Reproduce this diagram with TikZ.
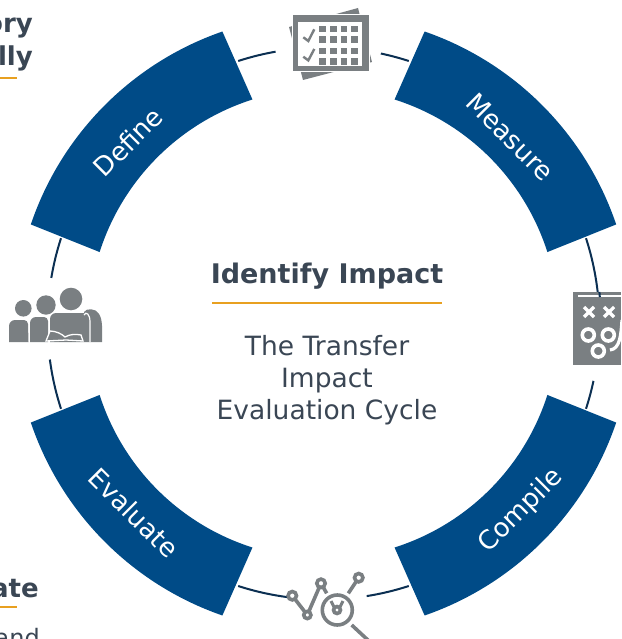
\documentclass[tikz,border=0pt]{standalone}
\usepackage{fontspec}
\setmainfont{DejaVu Sans}
\definecolor{segblue}{HTML}{004B87}
\definecolor{ringblue}{HTML}{0B2F52}
\definecolor{icongrey}{HTML}{7A7F82}
\definecolor{textgrey}{HTML}{3A4654}
\definecolor{lineorange}{HTML}{E8A020}
\tikzset{
  seglabel/.style={text=white,font=\fontsize{26}{30}\selectfont},
  headtext/.style={text=textgrey,font=\fontsize{27}{32}\bfseries\selectfont},
  sidehead/.style={text=textgrey,font=\fontsize{26}{30}\bfseries\selectfont,anchor=base east,inner sep=0},
  bodytext/.style={text=textgrey,font=\fontsize{26.5}{32}\selectfont},
  ringline/.style={ringblue,line width=2},
  iconline/.style={icongrey,line width=3.6},
  orangeline/.style={lineorange,line width=2}
}
\begin{document}
\begin{tikzpicture}[x=1pt,y=-1pt]
\useasboundingbox (0,0) rectangle (621,639);
\clip (0,0) rectangle (621,639);

\begin{scope}[shift={(323.5,323.5)},y=1pt]
% ring pieces
\draw[ringline] (100:276) arc (100:108:276);
\draw[ringline] (78:276) arc (78:72:276);
\draw[ringline] (18:276) arc (18:5.5:276);
\draw[ringline] (-12:276) arc (-12:-18:276);
\draw[ringline] (170.5:276) arc (170.5:162:276);
\draw[ringline] (187.5:276) arc (187.5:198:276);
\draw[ringline] (262.5:276) arc (262.5:252:276);
\draw[ringline] (279:276) arc (279:288:276);

% blue segments
\fill[segblue] (107.6:235) arc (107.6:162.3:235) -- (161.3:309) arc (161.3:109.1:309) -- cycle;
\fill[segblue] (17.7:235) arc (17.7:72.4:235) -- (70.9:309) arc (70.9:18.7:309) -- cycle;
\fill[segblue] (-72.4:235) arc (-72.4:-17.7:235) -- (-18.7:309) arc (-18.7:-70.9:309) -- cycle;
\fill[segblue] (197.7:235) arc (197.7:252.4:235) -- (250.9:309) arc (250.9:198.7:309) -- cycle;
\end{scope}

\node[seglabel,rotate=45] (define) at (128,142) {Define};
\node[seglabel,rotate=-45] (measure) at (510,137) {Measure};
\node[seglabel,rotate=45] (compile) at (521,511) {Compile};
\node[seglabel,rotate=-45] (evaluate) at (134,513) {Evaluate};

\node[headtext] (title) at (327,276) {Identify Impact};
\draw[orangeline] (212,303) -- (442,303);
\node[bodytext,align=center] (subtitle) at (327,380) {The Transfer\\Impact\\Evaluation Cycle};

% cut off texts at the edges
\node[sidehead] (hist) at (33,33) {ory};
\node[sidehead] (fully) at (33,66) {lly};
\draw[orangeline] (0,78) -- (17,78);
\node[sidehead] (rate) at (39,597) {ate};
\draw[orangeline] (0,607) -- (17,607);
\node[text=textgrey,font=\fontsize{24}{30}\selectfont,anchor=base east,inner sep=0] (and) at (40,646) {and};

% calendar
\fill[icongrey] (289,27) -- (358,8) -- (372,62) -- (303,80) -- cycle;
\fill[icongrey,draw=white,line width=0.6] (292,14) rectangle (369,71);
\fill[white] (298,22) rectangle (362,66.5);
\draw[icongrey,line width=6.7,dash pattern=on 6.7 off 4] (319.3,29) -- (358,29);
\draw[icongrey,line width=6.7,dash pattern=on 6.7 off 4] (319.3,39.4) -- (358,39.4);
\draw[icongrey,line width=6.7,dash pattern=on 6.7 off 4] (319.3,51) -- (358,51);
\draw[icongrey,line width=6.7,dash pattern=on 6.7 off 4] (319.3,61.6) -- (358,61.6);
\draw[icongrey,line width=2.4] (303.3,37.3) -- (308.3,41) -- (314.3,29.3);
\draw[icongrey,line width=2.4] (303.3,56.7) -- (308.3,60.4) -- (314.3,49);

% playbook
\fill[icongrey] (573,292) rectangle (621,365);
\draw[white,line width=2] (578,296) -- (621,296);
\draw[ringblue,line width=2] (599.4,292) -- (599.8,297);
\draw[white,line width=3.2] (584,307) -- (594,317);
\draw[white,line width=3.2] (584,317) -- (594,307);
\draw[white,line width=3.2] (604,307) -- (614,317);
\draw[white,line width=3.2] (604,317) -- (614,307);
\draw[white,line width=3.6] (588.3,335) circle (6);
\draw[white,line width=3.6] (608.3,335) circle (6);
\draw[white,line width=3.6] (598.3,351) circle (6);
\draw[white,line width=3.2] (610,350) .. controls (620,349) and (621,335) .. (622,320);

% analysis
\draw[iconline] (292.3,595.7) -- (307.3,615) -- (321,583.3) -- (326.7,593.3);
\draw[iconline] (358.7,577.7) -- (348.3,593.3);
\draw[iconline,fill=white] (292.3,595.7) circle (4.2);
\draw[iconline,fill=white] (307.3,615) circle (3.6);
\draw[iconline,fill=white] (321,583.3) circle (4.2);
\draw[iconline,fill=white] (358.7,577.7) circle (4.2);
\draw[iconline] (337.3,610) circle (15);
\draw[iconline] (351.7,625) -- (370,642);
\draw[iconline] (337,610) circle (3.5);
\draw[icongrey,line width=3] (331,601) -- (334,607);
\draw[icongrey,line width=3] (343,601) -- (340,607);

% people
\fill[icongrey] (23.3,308.3) circle (8.3);
\fill[icongrey] (46,305) circle (9.7);
\fill[icongrey] (71,299) circle (11.3);
\fill[icongrey] (9,342) -- (9,326) arc (180:270:6) -- (24,320) arc (270:360:4) -- (28.5,342) -- cycle;
\fill[icongrey] (30,342) -- (30,323) arc (180:270:6) -- (44,317) arc (270:360:4) -- (48,342) -- cycle;
\fill[icongrey] (50,342) -- (50,319) arc (180:270:6) -- (84,313) -- (84,342) -- cycle;
\fill[icongrey] (84,342) -- (84,312) .. controls (86,308) and (96,308) .. (99,314) .. controls (103,320) and (102,330) .. (102,342) -- cycle;
\draw[white,line width=1.2] (84,315) .. controls (86,311) and (90,314) .. (90,322) -- (90,342);
\draw[white,line width=1.3,fill=icongrey] (46,341) -- (50,331) .. controls (56,331) and (62,334) .. (65,337) .. controls (70,334) and (76,334) .. (81,335) -- (83,341) -- (66,340) -- cycle;
\end{tikzpicture}
\end{document}
